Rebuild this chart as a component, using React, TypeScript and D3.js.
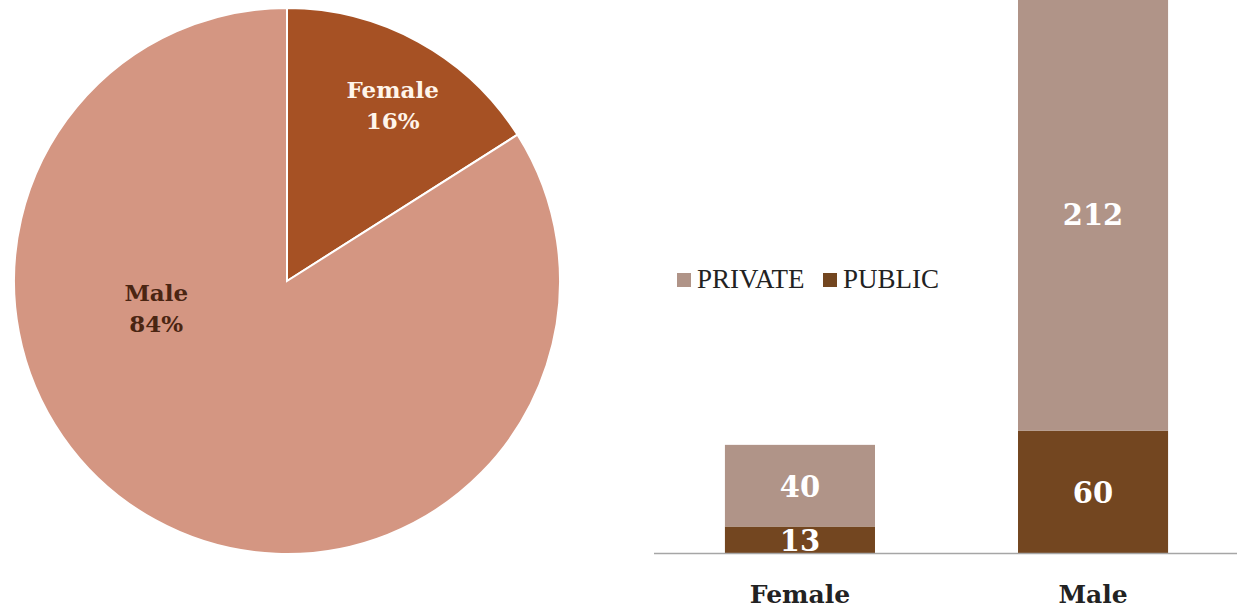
import { useEffect, useRef } from "react";
import * as d3 from "d3";

// Pie data
const genders = ["Female", "Male"];
const genderShare = [16, 84];
const pieColors = ["#A65124", "#D49682"];
const pieLabelColors = ["#FFF5EA", "#4A2512"];

// Stacked bars
const barCategories = ["Female", "Male"];
const publicValues = [13, 60];
const privateValues = [40, 212];
const seriesNames = ["PRIVATE", "PUBLIC"];
const seriesColors = ["#B09488", "#734620"];

const boldFont = "'DejaVu Serif', Georgia, serif";
const plainFont = "'Liberation Serif', 'Times New Roman', serif";

const App = () => {
  const ref = useRef<SVGSVGElement | null>(null);

  useEffect(() => {
    if (!ref.current) return;
    const svg = d3.select(ref.current);
    svg.selectAll("*").remove();

    // ---- Pie ----
    const cx = 287;
    const cy = 281;
    const radius = 273;
    const pieG = svg.append("g").attr("transform", `translate(${cx},${cy})`);

    const pieData = genders.map((g, i) => ({ name: g, value: genderShare[i], i }));
    const pie = d3
      .pie<any>()
      .value((d) => d.value)
      .sort(null);
    const arc = d3.arc<any>().innerRadius(0).outerRadius(radius);
    // small slice label sits far out, big slice label is nudged like excel's "best fit"
    const outerLabelArc = d3.arc<any>().innerRadius(radius * 0.75).outerRadius(radius * 0.75);
    const innerLabelArc = d3.arc<any>().innerRadius(radius * 0.5).outerRadius(radius * 0.5);

    const arcs = pie(pieData);
    pieG
      .selectAll("path")
      .data(arcs)
      .enter()
      .append("path")
      .attr("d", arc)
      .attr("fill", (d) => pieColors[d.data.i])
      .attr("stroke", "white")
      .attr("stroke-width", 2);

    const labels = pieG
      .selectAll("text.pl")
      .data(arcs)
      .enter()
      .append("text")
      .attr("class", "pl")
      .attr("transform", (d) => {
        if (d.data.name === "Male") {
          const [x, y] = innerLabelArc.centroid(d);
          return `translate(${x - 65},${y - 94})`;
        }
        const [x, y] = outerLabelArc.centroid(d);
        return `translate(${x + 7},${y + 2})`;
      })
      .attr("text-anchor", "middle")
      .style("font-family", boldFont)
      .style("font-weight", "bold")
      .style("font-size", "23px")
      .attr("fill", (d) => pieLabelColors[d.data.i]);
    labels.append("tspan").attr("x", 0).attr("dy", "-0.25em").text((d) => d.data.name);
    labels
      .append("tspan")
      .attr("x", 0)
      .attr("dy", "1.35em")
      .text((d) => `${d.data.value}%`);

    // ---- Stacked bars ----
    const baseline = 553;
    const x = d3
      .scaleBand()
      .domain(barCategories)
      .range([654, 1239])
      .paddingInner(0.488)
      .paddingOuter(0.242);
    const y = d3.scaleLinear().domain([0, 272]).range([baseline, -2]);

    const rows = barCategories.map((c, i) => ({ cat: c, PUBLIC: publicValues[i], PRIVATE: privateValues[i] }));
    const stack = d3.stack<any>().keys(["PUBLIC", "PRIVATE"]);
    const layers = stack(rows);

    const barG = svg.append("g");
    layers.forEach((layer) => {
      const color = seriesColors[seriesNames.indexOf(layer.key)];
      barG
        .selectAll(null)
        .data(layer)
        .enter()
        .append("rect")
        .attr("x", (d) => x(d.data.cat)!)
        .attr("width", x.bandwidth())
        .attr("y", (d) => y(d[1]))
        .attr("height", (d) => y(d[0]) - y(d[1]))
        .attr("fill", color);

      barG
        .selectAll(null)
        .data(layer)
        .enter()
        .append("text")
        .attr("x", (d) => x(d.data.cat)! + x.bandwidth() / 2)
        .attr("y", (d) => (y(d[0]) + y(d[1])) / 2 + 11)
        .attr("text-anchor", "middle")
        .style("font-family", boldFont)
        .style("font-weight", "bold")
        .style("font-size", "29px")
        .attr("fill", "white")
        .text((d) => d[1] - d[0]);
    });

    // axis line
    svg
      .append("line")
      .attr("x1", 654)
      .attr("x2", 1237)
      .attr("y1", baseline + 0.5)
      .attr("y2", baseline + 0.5)
      .attr("stroke", "#A6A6A6")
      .attr("stroke-width", 1.5);

    // category labels
    svg
      .selectAll("text.cat")
      .data(barCategories)
      .enter()
      .append("text")
      .attr("class", "cat")
      .attr("x", (d) => x(d)! + x.bandwidth() / 2)
      .attr("y", 603)
      .attr("text-anchor", "middle")
      .style("font-family", boldFont)
      .style("font-weight", "bold")
      .style("font-size", "25px")
      .attr("fill", "#222")
      .text((d) => d);

    // legend
    const legend = svg.append("g").attr("transform", "translate(677,273)");
    const legendX = [0, 146];
    seriesNames.forEach((name, i) => {
      legend
        .append("rect")
        .attr("x", legendX[i])
        .attr("y", 0)
        .attr("width", 14)
        .attr("height", 14)
        .attr("fill", seriesColors[i]);
      legend
        .append("text")
        .attr("x", legendX[i] + 20)
        .attr("y", 15)
        .style("font-family", plainFont)
        .style("font-size", "27px")
        .attr("fill", "#222")
        .text(name);
    });
  }, []);

  return (
    <svg
      ref={ref}
      width={1237}
      height={608}
      style={{ position: "absolute", left: 0, top: 0, background: "white" }}
    />
  );
};

export default App;
